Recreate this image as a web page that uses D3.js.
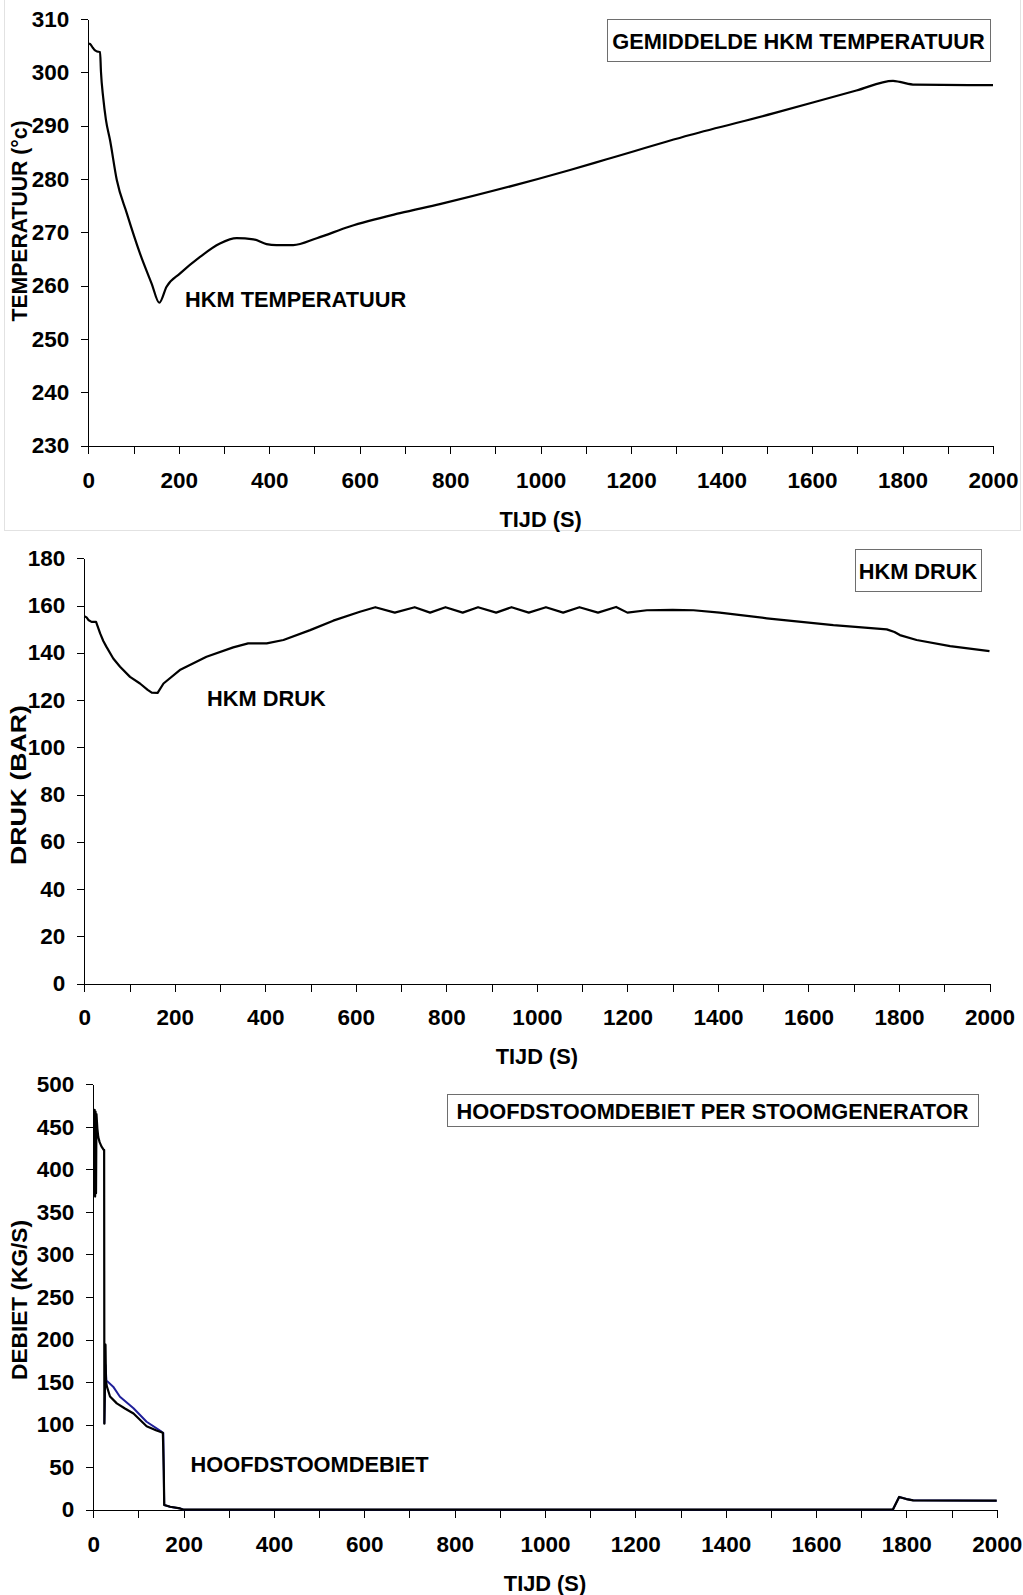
<!DOCTYPE html>
<html>
<head>
<meta charset="utf-8">
<script src="https://cdn.jsdelivr.net/npm/d3@7"></script>
<style>
  html, body { margin: 0; padding: 0; background: #ffffff; }
  svg { display: block; }
  text { font-family: "Liberation Sans", Arial, sans-serif; font-weight: bold; fill: #000; }
</style>
</head>
<body>
<svg id="chart" width="1023" height="1595"></svg>
<script>
// Shared time axis (seconds)
const timeTicks = [0, 100, 200, 300, 400, 500, 600, 700, 800, 900, 1000,
                   1100, 1200, 1300, 1400, 1500, 1600, 1700, 1800, 1900, 2000];

// Panel 1: average primary-circuit temperature
const tempTicks = [230, 240, 250, 260, 270, 280, 290, 300, 310];
const tempTime  = [0, 4, 10, 15, 20, 26, 28, 33, 39, 48, 63, 85, 114, 140, 157, 173, 203, 247, 291, 328, 365, 394, 416, 453, 505, 578, 689, 777, 1065, 1146, 1330, 1514, 1698, 1779, 1794, 1827, 2000];
const tempValue = [305.4, 305.3, 304.6, 304.1, 303.9, 303.8, 300.1, 295.2, 291.1, 287.3, 279.8, 273.6, 266.1, 260.4, 256.8, 259.8, 262.3, 265.4, 267.9, 268.9, 268.7, 267.8, 267.6, 267.6, 268.9, 271.1, 273.6, 275.3, 281.7, 283.7, 288.25, 292.3, 296.6, 298.4, 298.2, 297.7, 297.6];

// Panel 2: primary-circuit pressure
const pressTicks = [0, 20, 40, 60, 80, 100, 120, 140, 160, 180];
const pressTime  = [0, 5, 9, 16, 26, 35, 42, 49, 64, 79, 101, 123, 140, 149, 162, 175, 211, 270, 329, 362, 403, 440, 499, 550, 609, 643, 686, 730, 764, 798, 836, 870, 910, 944, 982, 1020, 1058, 1094, 1135, 1175, 1200, 1243, 1300, 1346, 1404, 1508, 1655, 1773, 1790, 1802, 1839, 1913, 2000];
const pressValue = [155.5, 155, 153.9, 153.1, 153.1, 148.2, 145, 142.5, 137.6, 134.1, 129.8, 127, 124.3, 123.1, 123, 127, 132.7, 138.3, 142.3, 144, 144, 145.4, 149.6, 153.6, 157.4, 159.3, 157, 159.3, 157, 159.3, 157, 159.3, 157, 159.3, 157, 159.3, 157, 159.3, 157, 159.4, 157, 158, 158.2, 158, 157, 154.6, 151.7, 149.9, 148.8, 147.5, 145.4, 142.8, 140.7];

// Panel 3: main steam flow per steam generator (two generators)
const flowTicks = [0, 50, 100, 150, 200, 250, 300, 350, 400, 450, 500];
const flowTimeA  = [2, 3, 4, 5, 6, 7, 9, 11, 14, 18, 23, 24, 24.5, 27, 28, 30, 37, 52, 70, 89, 118, 140, 154, 156, 157, 170, 192, 200, 1770, 1784, 1800, 1815, 2000];
const flowValueA = [372, 470, 368, 468, 372, 465, 448, 438, 432, 427, 423, 423, 101, 194, 152, 145, 133, 125, 119, 113, 98, 93, 90.5, 46, 5.5, 3.5, 1.5, 0, 0, 15, 12.5, 11, 10.6];
const flowTimeB  = [24.5, 27, 29, 44, 59, 89, 118, 151, 155, 156, 157, 170, 192, 200, 1770, 1784, 1800, 1815, 2000];
const flowValueB = [101, 170, 152, 144.6, 132.8, 119.2, 103.4, 91.7, 90, 46, 5.5, 3.5, 1.5, 0, 0, 15, 12.5, 11, 10.6];

const svg = d3.select("#chart");
svg.append("rect").attr("width", 1023).attr("height", 1595).attr("fill", "#fff");

// light frame around the upper chart area
svg.append("rect")
  .attr("x", 4.5).attr("y", -2).attr("width", 1016).attr("height", 532.5)
  .attr("fill", "none").attr("stroke", "#e2e2e2").attr("stroke-width", 1);

const FONT = 21.8;
const TICK_FONT = 22.5;

function panel(cfg) {
  const x = d3.scaleLinear().domain([0, 2000]).range([cfg.left, cfg.right]);
  const y = d3.scaleLinear().domain(cfg.yDomain).range([cfg.bottom, cfg.top]);
  const g = svg.append("g");

  const xAxis = d3.axisBottom(x)
    .tickValues(timeTicks)
    .tickFormat(d => d % 200 === 0 ? d : "")
    .tickSize(8).tickSizeOuter(0).tickPadding(19);
  const gx = g.append("g").attr("transform", `translate(0,${cfg.bottom})`).call(xAxis);

  const yAxis = d3.axisLeft(y)
    .tickValues(cfg.yTicks)
    .tickSize(7).tickSizeOuter(0).tickPadding(12);
  const gy = g.append("g").attr("transform", `translate(${cfg.left},0)`).call(yAxis);

  [gx, gy].forEach(a => {
    a.selectAll("text").style("font-size", TICK_FONT + "px").style("font-weight", "bold")
      .style("font-family", '"Liberation Sans", Arial, sans-serif').attr("fill", "#000");
    a.selectAll("line, path").attr("stroke", "#000").attr("stroke-width", 1)
      .attr("shape-rendering", "crispEdges");
  });
  gx.selectAll("text").attr("y", 26);

  cfg.series.forEach(s => {
    const line = d3.line().x(d => x(d[0])).y(d => y(d[1])).curve(s.curve || d3.curveLinear);
    const pts = s.t.map((t, i) => [t, s.v[i]]);
    g.append("path").datum(pts)
      .attr("d", line)
      .attr("fill", "none")
      .attr("stroke", s.color)
      .attr("stroke-width", s.width)
      .attr("stroke-linejoin", "round");
  });

  // axis titles
  g.append("text")
    .attr("x", (cfg.left + cfg.right) / 2).attr("y", cfg.bottom + 73)
    .attr("dy", "0.36em").attr("text-anchor", "middle")
    .style("font-size", FONT + "px").text("TIJD (S)");
  g.append("text")
    .attr("transform", `translate(${cfg.yTitleX},${cfg.yTitleY}) rotate(-90)`)
    .attr("dy", "0.36em").attr("text-anchor", "middle")
    .attr("textLength", cfg.yTitleLen).attr("lengthAdjust", "spacingAndGlyphs")
    .style("font-size", FONT + "px").text(cfg.yTitle);

  // in-plot curve label
  g.append("text")
    .attr("x", cfg.noteX).attr("y", cfg.noteY).attr("dy", "0.36em")
    .style("font-size", FONT + "px").text(cfg.note);

  // boxed chart title
  const b = cfg.box;
  g.append("rect")
    .attr("x", b[0] + 0.5).attr("y", b[1] + 0.5)
    .attr("width", b[2] - b[0]).attr("height", b[3] - b[1])
    .attr("fill", "#fff").attr("stroke", "#6e6e6e").attr("stroke-width", 1);
  g.append("text")
    .attr("x", (b[0] + b[2]) / 2).attr("y", (b[1] + b[3]) / 2 + 1)
    .attr("dy", "0.36em").attr("text-anchor", "middle")
    .style("font-size", FONT + "px").text(cfg.title);
}

panel({
  left: 88.3, right: 993, top: 19, bottom: 445.7,
  yDomain: [230, 310], yTicks: tempTicks,
  yTitle: "TEMPERATUUR (°c)", yTitleX: 19, yTitleY: 221, yTitleLen: 201,
  note: "HKM TEMPERATUUR", noteX: 185, noteY: 299,
  title: "GEMIDDELDE HKM TEMPERATUUR", box: [607, 19, 990, 61],
  series: [{ t: tempTime, v: tempValue, color: "#000", width: 2.2, curve: d3.curveMonotoneX }]
});

panel({
  left: 84.3, right: 989.5, top: 558.3, bottom: 983.5,
  yDomain: [0, 180], yTicks: pressTicks,
  yTitle: "DRUK (BAR)", yTitleX: 18, yTitleY: 785, yTitleLen: 160,
  note: "HKM DRUK", noteX: 207, noteY: 698,
  title: "HKM DRUK", box: [855, 549, 981, 591],
  series: [{ t: pressTime, v: pressValue, color: "#000", width: 2.2 }]
});

panel({
  left: 93.3, right: 996.7, top: 1084.3, bottom: 1509.7,
  yDomain: [0, 500], yTicks: flowTicks,
  yTitle: "DEBIET (KG/S)", yTitleX: 19, yTitleY: 1300, yTitleLen: 160,
  note: "HOOFDSTOOMDEBIET", noteX: 190.5, noteY: 1464,
  title: "HOOFDSTOOMDEBIET PER STOOMGENERATOR", box: [447, 1094, 978, 1126],
  series: [
    { t: flowTimeB, v: flowValueB, color: "#1f1f99", width: 2 },
    { t: flowTimeA, v: flowValueA, color: "#000", width: 2.2 }
  ]
});
</script>
</body>
</html>
